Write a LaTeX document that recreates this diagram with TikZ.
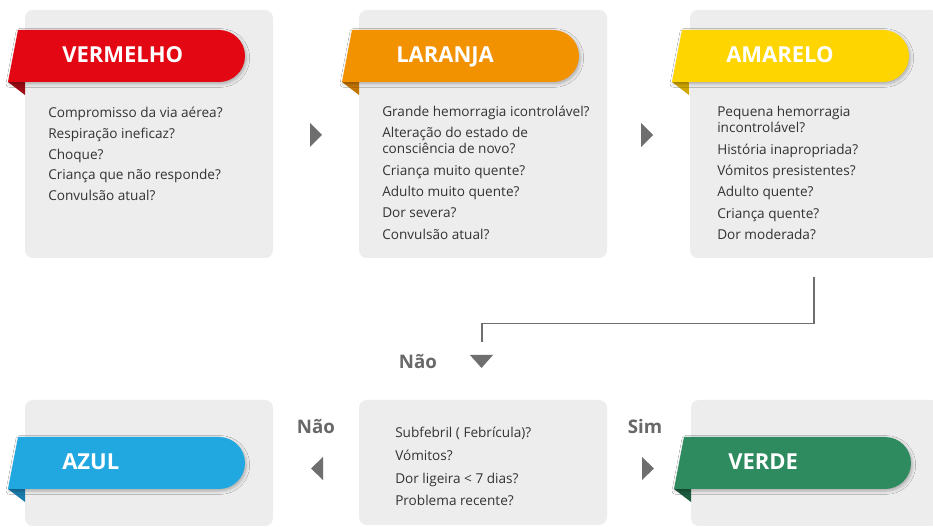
\documentclass[tikz,border=0pt]{standalone}
\usepackage{fontspec}
\setmainfont{Open Sans}
\usetikzlibrary{shadows.blur}
\definecolor{panelgray}{HTML}{EDEDED}
\definecolor{txtgray}{HTML}{333333}
\definecolor{arrgray}{HTML}{6E6E6E}
\definecolor{lblgray}{HTML}{686868}
\definecolor{redA}{HTML}{E30613}\definecolor{redB}{HTML}{9E0B14}
\definecolor{orgA}{HTML}{F39200}\definecolor{orgB}{HTML}{C47500}
\definecolor{yelA}{HTML}{FFD500}\definecolor{yelB}{HTML}{D1A800}
\definecolor{bluA}{HTML}{22A8E1}\definecolor{bluB}{HTML}{1A7DAE}
\definecolor{grnA}{HTML}{2E8A5F}\definecolor{grnB}{HTML}{1D5C3E}
% #1 = panel left x, #2 = ribbon top y, #3 = colour, #4 = fold colour
\newcommand\myribbon[4]{%
  \fill[#4] (#1-17,#2+52) -- (#1,#2+52) -- (#1,#2+65) -- cycle;
  \fill[#3, ribshadow] (#1-7,#2) -- (#1+194,#2)
     arc[start angle=-90,end angle=90,radius=26] -- (#1-17,#2+52) -- cycle;
}
\begin{document}
\begin{tikzpicture}[x=0.75pt,y=-0.75pt,
  panelbox/.style={fill=panelgray, rounded corners=6pt, minimum width=186pt, inner sep=0pt},
  ribshadow/.style={blur shadow={shadow xshift=1pt, shadow yshift=-1.5pt, shadow blur radius=2.5pt, shadow opacity=28}},
  ribtext/.style={font=\bfseries\fontsize{16.5pt}{20pt}\selectfont, text=white, anchor=base west, inner sep=0pt},
  body/.style={font=\fontsize{10.2pt}{12.2pt}\selectfont, text=txtgray, align=left, anchor=north west, inner sep=0pt},
  lbl/.style={font=\bfseries\fontsize{14pt}{16pt}\selectfont, text=lblgray, inner sep=0pt},
  tri/.style={fill=arrgray},
  conn/.style={draw=arrgray, line width=1.1pt}]

\useasboundingbox (0,0) rectangle (933,527);
\clip (0,0) rectangle (933,527);
\fill[white] (0,0) rectangle (933,527);

% panels
\node[panelbox, minimum height=186pt] (p1) at (149,134) {};
\node[panelbox, minimum height=186pt] (p2) at (483,134) {};
\node[panelbox, minimum height=186pt] (p3) at (814,134) {};
\node[panelbox, minimum height=94.5pt] (p4) at (149,463) {};
\node[panelbox, minimum height=93.75pt] (p5) at (483,462.5) {};
\node[panelbox, minimum height=94.5pt] (p6) at (815,463) {};

% ribbons
\myribbon{25}{30}{redA}{redB}
\myribbon{359}{30}{orgA}{orgB}
\myribbon{689}{30}{yelA}{yelB}
\myribbon{25}{437}{bluA}{bluB}
\myribbon{691}{437}{grnA}{grnB}

\node[ribtext] (r1) at (62,62.5) {VERMELHO};
\node[ribtext] (r2) at (396,62.5) {LARANJA};
\node[ribtext] (r3) at (726,62.5) {AMARELO};
\node[ribtext] (r4) at (62,469.5) {AZUL};
\node[ribtext] (r5) at (728,469.5) {VERDE};

% body texts
\node[body] (b1) at (48,107) {Compromisso da via aérea?\\[3.3pt]Respiração ineficaz?\\[3.3pt]Choque?\\[3.3pt]Criança que não responde?\\[3.3pt]Convulsão atual?};
\node[body] (b2) at (382,105.5) {Grande hemorragia icontrolável?\\[3.8pt]Alteração do estado de\\consciência de novo?\\[3.8pt]Criança muito quente?\\[3.8pt]Adulto muito quente?\\[3.8pt]Dor severa?\\[3.8pt]Convulsão atual?};
\node[body] (b3) at (717,106) {Pequena hemorragia\\incontrolável?\\[3.8pt]História inapropriada?\\[3.8pt]Vómitos presistentes?\\[3.8pt]Adulto quente?\\[3.8pt]Criança quente?\\[3.8pt]Dor moderada?};
\node[body] (b5) at (395,427) {Subfebril ( Febrícula)?\\[4.8pt]Vómitos?\\[4.8pt]Dor ligeira < 7 dias?\\[4.8pt]Problema recente?};

% arrows between panels
\fill[tri] (310,123) -- (322,135) -- (310,147) -- cycle;
\fill[tri] (641,123) -- (653,135) -- (641,147) -- cycle;
\fill[tri] (323,457) -- (311,468.5) -- (323,480) -- cycle;
\fill[tri] (642,457) -- (654,468.5) -- (642,480) -- cycle;
\fill[tri] (470,355) -- (493,355) -- (481.5,368) -- cycle;

% connector from AMARELO down to the decision
\coordinate (c1) at ([yshift=-14.25pt]p3.south);
\coordinate (c2) at (482,342);
\draw[conn] (c1) -- ++(0,46) -| (c2);

% labels
\node[lbl] (n1) at (418,362) {Não};
\node[lbl] (n2) at (316,427) {Não};
\node[lbl] (n3) at (645,427) {Sim};
\end{tikzpicture}
\end{document}
